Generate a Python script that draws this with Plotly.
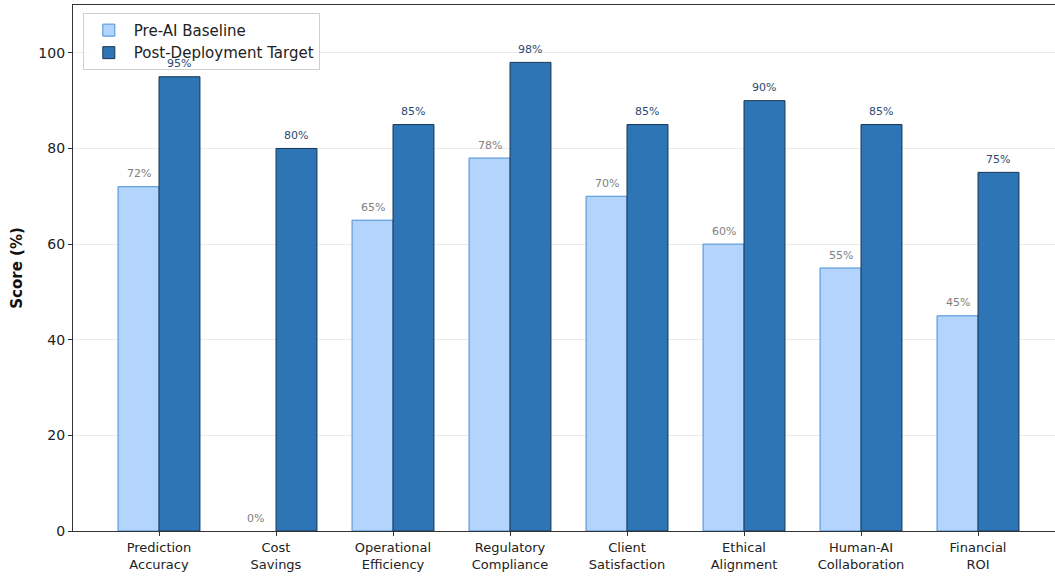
import plotly.graph_objects as go

categories = ["Prediction<br>Accuracy", "Cost<br>Savings", "Operational<br>Efficiency",
              "Regulatory<br>Compliance", "Client<br>Satisfaction", "Ethical<br>Alignment",
              "Human-AI<br>Collaboration", "Financial<br>ROI"]
baseline = [72, 0, 65, 78, 70, 60, 55, 45]
target = [95, 80, 85, 98, 85, 90, 85, 75]
y_ticks = [0, 20, 40, 60, 80, 100]

fig = go.Figure()
fig.add_trace(go.Bar(
    x=categories, y=baseline, name="Pre-AI Baseline",
    marker=dict(color="#b3d4fc", line=dict(color="#4a8fd6", width=[0 if v == 0 else 1 for v in baseline])),
))
fig.add_trace(go.Bar(
    x=categories, y=target, name="Post-Deployment Target",
    marker=dict(color="#2e75b6", line=dict(color="#1a3553", width=1)),
))

# value labels above bars
half = 0.35 * (1055 - 73) / 8.393 / 2
for c, v in zip(categories, baseline):
    fig.add_annotation(x=c, y=v, text=f"{v}%", showarrow=False, xshift=-half, yshift=13,
                       font=dict(family="DejaVu Sans", size=11, color="#808080"))
for c, v in zip(categories, target):
    fig.add_annotation(x=c, y=v, text=f"{v}%", showarrow=False, xshift=half, yshift=13,
                       font=dict(family="DejaVu Sans", size=11, color="#2c4a72"))

fig.update_layout(
    width=1055, height=577,
    margin=dict(l=73, r=0, t=5, b=46),
    paper_bgcolor="white", plot_bgcolor="white",
    barmode="group", bargap=0.3, bargroupgap=0,
    font=dict(family="DejaVu Sans", color="#222222"),
    showlegend=True,
    legend=dict(x=0.01, y=0.985, xanchor="left", yanchor="top",
                bgcolor="rgba(255,255,255,0.85)", bordercolor="#d0d0d0", borderwidth=1,
                font=dict(size=15, color="#222222"), tracegroupgap=2, itemwidth=40),
    xaxis=dict(range=[-0.735, 7.658], showline=True, linecolor="#333333", linewidth=1.2,
               mirror=True, ticks="outside", ticklen=4, tickcolor="#333333",
               tickfont=dict(size=13, color="#222222"), showgrid=False),
    yaxis=dict(range=[0, 110], tickvals=y_ticks, showline=True, linecolor="#333333",
               linewidth=1.2, ticks="outside", ticklen=4, tickcolor="#333333",
               tickfont=dict(size=14, color="#222222"), showgrid=True,
               gridcolor="#ebebeb", gridwidth=1, zeroline=False,
               title=dict(text="<b>Score (%)</b>", font=dict(size=15, color="#111111"), standoff=12)),
)

fig.write_html("out.html")
